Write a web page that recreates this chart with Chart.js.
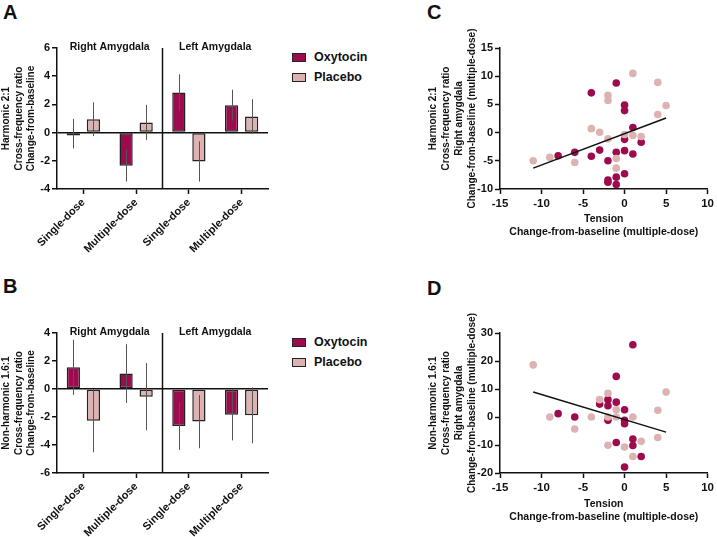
<!DOCTYPE html>
<html>
<head>
<meta charset="utf-8">
<script src="https://cdn.jsdelivr.net/npm/chart.js@4.4.1/dist/chart.umd.min.js"></script>
<style>
  body { margin: 0; background: #fff; }
  #fig { position: relative; width: 717px; height: 537px; overflow: hidden; font-family: 'Liberation Sans', Arial, sans-serif; color: #111; }
  canvas { position: absolute; }
  .letter { position: absolute; font-weight: bold; font-size: 20px; line-height: 20px; }
  .legend { position: absolute; font-weight: bold; font-size: 12.5px; }
  .legend div { height: 20px; line-height: 20px; white-space: nowrap; }
  .legend span { display: inline-block; width: 12px; height: 7px; border: 1.5px solid #222; margin-right: 8px; vertical-align: -1px; }
</style>
</head>
<body>
<div id="fig">
  <div class="letter" style="left:3px;top:2px">A</div>
  <div class="letter" style="left:3px;top:276px">B</div>
  <div class="letter" style="left:427px;top:2px">C</div>
  <div class="letter" style="left:427px;top:278px">D</div>

  <div class="legend" style="left:292px;top:47px">
    <div><span style="background:#9e0a4e"></span>Oxytocin</div>
    <div><span style="background:#dcb3b1"></span>Placebo</div>
  </div>
  <div class="legend" style="left:292px;top:332px">
    <div><span style="background:#9e0a4e"></span>Oxytocin</div>
    <div><span style="background:#dcb3b1"></span>Placebo</div>
  </div>

  <canvas id="chartA" width="285" height="260" style="left:0;top:0"></canvas>
  <canvas id="chartB" width="285" height="277" style="left:0;top:260px"></canvas>
  <canvas id="chartC" width="317" height="260" style="left:400px;top:0"></canvas>
  <canvas id="chartD" width="317" height="267" style="left:400px;top:270px"></canvas>
</div>

<script>
// ---- data ----
const categories = ['Single-dose', 'Multiple-dose', 'Single-dose', 'Multiple-dose'];
const groups = ['Right Amygdala', 'Left Amygdala'];

// panel A: harmonic 2:1, mean and error
const oxyA = [-0.08, -2.35, 2.84, 1.94];
const oxyErrA = [1.05, 1.13, 1.3, 1.1];
const plcA = [0.95, 0.72, -2.05, 1.15];
const plcErrA = [1.2, 1.25, 1.43, 1.22];

// panel B: non-harmonic 1.6:1
const oxyB = [1.55, 1.1, -2.65, -1.84];
const oxyErrB = [1.97, 2.1, 1.7, 1.83];
const plcB = [-2.26, -0.55, -2.33, -1.88];
const plcErrB = [2.26, 2.4, 1.9, 2.0];

// panel C: tension vs harmonic 2:1 (right amygdala)
const oxyC = [[-8,-4.1],[-6,-3.5],[-4,7.05],[-4,-4.2],[-3,-3.1],[-2,-5.0],[-2,-8.4],[-2,-8.8],[-1,8.8],[-1,-3.5],
              [-1,-7.9],[-1,-9.2],[0,4.9],[0,3.9],[0,-1.2],[0,-3.2],[0,-7.3],[1,0.9],[1,-3.8],[2,-1.7]];
const plcC = [[-11,-5.0],[-9,-4.4],[-6,-5.3],[-4,0.7],[-3,0.05],[-2,6.6],[-2,5.7],[-2,-1.1],[-1,-4.6],[-1,-6.3],
              [0,-0.35],[1,-0.5],[1,10.5],[2,-0.7],[4,8.9],[4,3.2],[5,4.8]];
const fitC = [[-11,-6.3],[5,2.6]];

// panel D: tension vs non-harmonic 1.6:1 (right amygdala)
const oxyD = [[-8,1.2],[-6,0],[-3,4.6],[-2,6.2],[-2,4.0],[-2,-1.2],[-1,14.5],[-1,5.3],[-1,-9.1],[0,2.6],
              [0,-1.2],[0,-2.4],[0,-17.9],[1,25.8],[1,-7.9],[1,-10.2],[2,-14.1]];
const plcD = [[-11,18.6],[-9,0],[-6,-4.3],[-4,0],[-3,6.2],[-2,8.5],[-2,0],[-2,-10.1],[-1,2.6],[-1,0],
              [0,-10.7],[1,0],[1,-14.1],[2,-8.7],[4,2.4],[4,-7.3],[5,8.9]];
const fitD = [[-11,8.9],[5,-5.4]];

const DARK = '#9e0a4e';
const LIGHT = '#dcb3b1';
const INK = '#111';

Chart.defaults.font.family = "'Liberation Sans', Arial, sans-serif";
Chart.defaults.font.weight = 'bold';
Chart.defaults.font.size = 11;
Chart.defaults.color = INK;

const toPts = arr => arr.map(p => ({ x: p[0], y: p[1] }));

// thin grey error lines drawn over the bars
const errorBarPlugin = {
    id: 'errorBars',
    afterDatasetsDraw(chart, args, opts) {
        const ctx = chart.ctx;
        const yScale = chart.scales.y;
        ctx.save();
        ctx.strokeStyle = '#555';
        ctx.lineWidth = 1;
        chart.data.datasets.forEach((ds, i) => {
            const errs = opts.errors[i];
            chart.getDatasetMeta(i).data.forEach((bar, j) => {
                const v = ds.data[j];
                ctx.beginPath();
                ctx.moveTo(Math.round(bar.x) + 0.5, yScale.getPixelForValue(v + errs[j]));
                ctx.lineTo(Math.round(bar.x) + 0.5, yScale.getPixelForValue(v - errs[j]));
                ctx.stroke();
            });
        });
        ctx.restore();
    }
};

// divider between hemispheres and the group headings
const groupPlugin = {
    id: 'groupLabels',
    afterDraw(chart, args, opts) {
        const ctx = chart.ctx;
        const x = chart.scales.x;
        const area = chart.chartArea;
        ctx.save();
        ctx.strokeStyle = INK;
        ctx.lineWidth = 1.5;
        const xm = x.getPixelForValue(1.5);
        ctx.beginPath();
        ctx.moveTo(xm, area.top);
        ctx.lineTo(xm, area.bottom);
        ctx.stroke();
        ctx.fillStyle = INK;
        ctx.font = "bold 10.5px 'Liberation Sans', Arial, sans-serif";
        ctx.textAlign = 'center';
        ctx.textBaseline = 'middle';
        opts.labels.forEach((lbl, i) => {
            ctx.fillText(lbl, x.getPixelForValue(i * 2 + 0.5), area.top - 1);
        });
        ctx.restore();
    }
};

function barChart(id, oxy, oxyErr, plc, plcErr, yMin, yMax, yTitle, padTop, xHeight) {
    return new Chart(document.getElementById(id), {
        type: 'bar',
        data: {
            labels: categories,
            datasets: [
                { label: 'Oxytocin', data: oxy, backgroundColor: DARK, borderColor: '#222', borderWidth: 1.5, borderSkipped: false, minBarLength: 3 },
                { label: 'Placebo', data: plc, backgroundColor: LIGHT, borderColor: '#222', borderWidth: 1.5, borderSkipped: false, minBarLength: 3 }
            ]
        },
        options: {
            responsive: false,
            animation: false,
            categoryPercentage: 0.76,
            barPercentage: 0.66,
            layout: { padding: { top: padTop, right: 17, left: 0, bottom: 0 } },
            plugins: {
                legend: { display: false },
                tooltip: { enabled: false },
                errorBars: { errors: [oxyErr, plcErr] },
                groupLabels: { labels: groups }
            },
            scales: {
                x: {
                    grid: { display: true, offset: false, drawOnChartArea: false, tickLength: 5, tickColor: INK, tickWidth: 1.5 },
                    border: { display: true, color: INK, width: 1.5 },
                    ticks: { minRotation: 45, maxRotation: 45, padding: 2, font: { size: 11 } },
                    afterFit: s => { s.height = xHeight; }
                },
                y: {
                    min: yMin, max: yMax,
                    ticks: { stepSize: 2, padding: 2 },
                    grid: {
                        color: c => c.tick && c.tick.value === 0 ? INK : 'rgba(0,0,0,0)',
                        lineWidth: 1.5, tickLength: 5, tickColor: INK, tickWidth: 1.5
                    },
                    border: { display: true, color: INK, width: 1.5 },
                    title: { display: true, text: yTitle, font: { size: 10, lineHeight: 1.25 }, padding: { top: 0, bottom: 0 } },
                    afterFit: s => { s.width = 57; }
                }
            }
        },
        plugins: [errorBarPlugin, groupPlugin]
    });
}

function scatterChart(id, oxy, plc, fit, yMin, yMax, yStep, yTitle, padTop, xHeight, titlePadBottom) {
    return new Chart(document.getElementById(id), {
        type: 'scatter',
        data: {
            datasets: [
                { type: 'line', data: toPts(fit), borderColor: INK, borderWidth: 1.5, pointRadius: 0, fill: false },
                { data: toPts(plc), backgroundColor: LIGHT, borderWidth: 0, pointRadius: 3.8 },
                { data: toPts(oxy), backgroundColor: DARK, borderWidth: 0, pointRadius: 3.8 }
            ]
        },
        options: {
            responsive: false,
            animation: false,
            layout: { padding: { top: padTop, right: 5, left: 0, bottom: 0 } },
            plugins: { legend: { display: false }, tooltip: { enabled: false } },
            scales: {
                x: {
                    type: 'linear', min: -15, max: 10,
                    ticks: { stepSize: 5, padding: 3, font: { size: 11.5 } },
                    grid: { display: true, drawOnChartArea: false, tickLength: 5, tickColor: INK, tickWidth: 1.5 },
                    border: { display: true, color: INK, width: 1.5 },
                    title: { display: true, text: ['Tension', 'Change-from-baseline (multiple-dose)'], font: { size: 10.5, lineHeight: 1.24 }, padding: { top: 2, bottom: titlePadBottom } },
                    afterFit: s => { s.height = xHeight; }
                },
                y: {
                    min: yMin, max: yMax,
                    ticks: { stepSize: yStep, padding: 2 },
                    grid: { display: true, drawOnChartArea: false, tickLength: 5, tickColor: INK, tickWidth: 1.5 },
                    border: { display: true, color: INK, width: 1.5 },
                    title: { display: true, text: yTitle, font: { size: 10, lineHeight: 1.3 }, padding: { top: 27, bottom: 0 } },
                    afterFit: s => { s.width = 100; }
                }
            }
        }
    });
}

barChart('chartA', oxyA, oxyErrA, plcA, plcErrA, -4, 6,
    ['Harmonic 2:1', 'Cross-frequency ratio', 'Change-from-baseline'], 48, 71);
barChart('chartB', oxyB, oxyErrB, plcB, plcErrB, -6, 4,
    ['Non-harmonic 1.6:1', 'Cross-frequency ratio', 'Change-from-baseline'], 73, 64);
scatterChart('chartC', oxyC, plcC, fitC, -10, 15, 5,
    ['Harmonic 2:1', 'Cross-frequency ratio', 'Right amygdala', 'Change-from-baseline (multiple-dose)'], 48, 71, 21);
scatterChart('chartD', oxyD, plcD, fitD, -20, 30, 10,
    ['Non-harmonic 1.6:1', 'Cross-frequency ratio', 'Right amygdala', 'Change-from-baseline (multiple-dose)'], 63, 64, 13);
</script>
</body>
</html>
